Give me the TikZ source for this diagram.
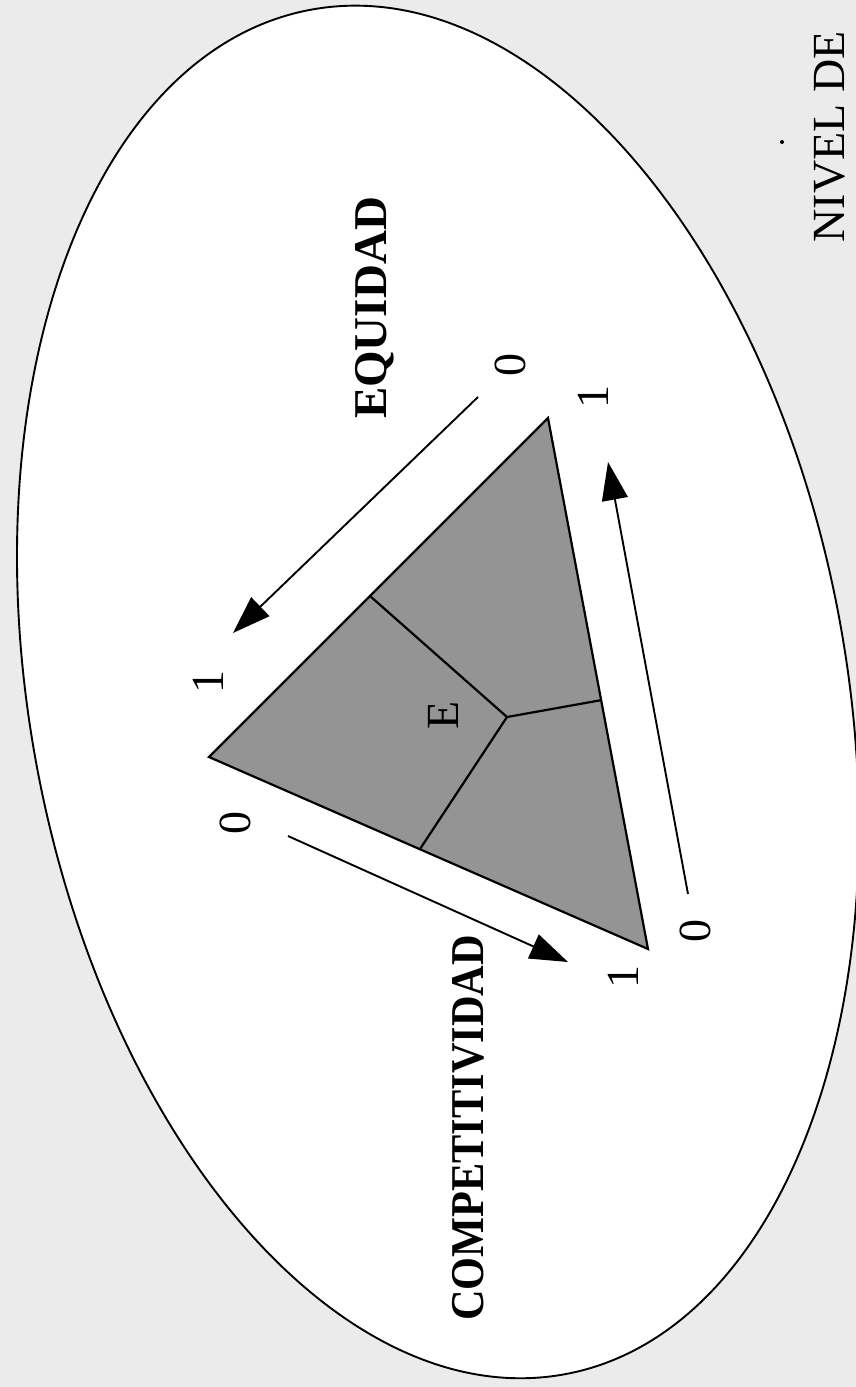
\documentclass[tikz,border=0pt]{standalone}
\usepackage{graphicx}
\usepackage{fontspec}
\setmainfont{Liberation Serif}
\usetikzlibrary{arrows.meta}
\begin{document}
\begin{tikzpicture}[x=1pt,y=-1pt,
  num/.style={font=\fontsize{46}{46}\selectfont, rotate=90, inner sep=0pt},
  title/.style={font=\fontsize{47}{47}\selectfont\bfseries, rotate=90, inner sep=0pt},
  plain/.style={font=\fontsize{46}{46}\selectfont, rotate=90, inner sep=0pt},
  edge/.style={line width=2.2pt, line join=miter},
  arr/.style={line width=1.9pt, -{Triangle[length=38pt,width=26pt]}}]
\fill[black!8] (0,0) rectangle (856,1387);
\useasboundingbox (0,0) rectangle (856,1387);
\coordinate (c) at (438,692);
\filldraw[fill=white, line width=1.9pt, rotate around={10.6:(c)}] (c) ellipse [x radius=408pt, y radius=694pt];
% triangle
\coordinate (L) at (209,757);
\coordinate (T) at (548,418);
\coordinate (B) at (648,949);
\coordinate (M) at (507,717);
\coordinate (jl) at (370,596);
\coordinate (jb) at (420,849);
\coordinate (jr) at (602,700);
\filldraw[fill=black!42, edge] (L) -- (T) -- (B) -- cycle;
\draw[edge] (jl) -- (M) -- (jr);
\draw[edge] (M) -- (jb);
% arrows
\coordinate (a1s) at (478,397);
\coordinate (a1e) at (233,633);
\coordinate (a2s) at (288,836);
\coordinate (a2e) at (568,962);
\coordinate (a3s) at (688,894);
\coordinate (a3e) at (608,462);
\draw[arr] (a1s) -- (a1e);
\draw[arr] (a2s) -- (a2e);
\draw[arr] (a3s) -- (a3e);
% labels
\node[num] (n1) at (208,682) {1};
\node[num] (n2) at (235,823) {0};
\node[num] (n3) at (510,365) {0};
\node[num] (n4) at (593,397) {1};
\node[num] (n5) at (695,931) {0};
\node[num] (n6) at (623,977) {1};
\node[plain] (e) at (443,715) {E};
\node[title] (eq) at (375,308) {EQUIDAD};
\node[title] (comp) at (468,1128) {\scalebox{0.9}[1]{COMPETITIVIDAD}};
\node[plain] (niv) at (830,137) {NIVEL DE};
\fill (782,142) circle (2pt);
\end{tikzpicture}
\end{document}
